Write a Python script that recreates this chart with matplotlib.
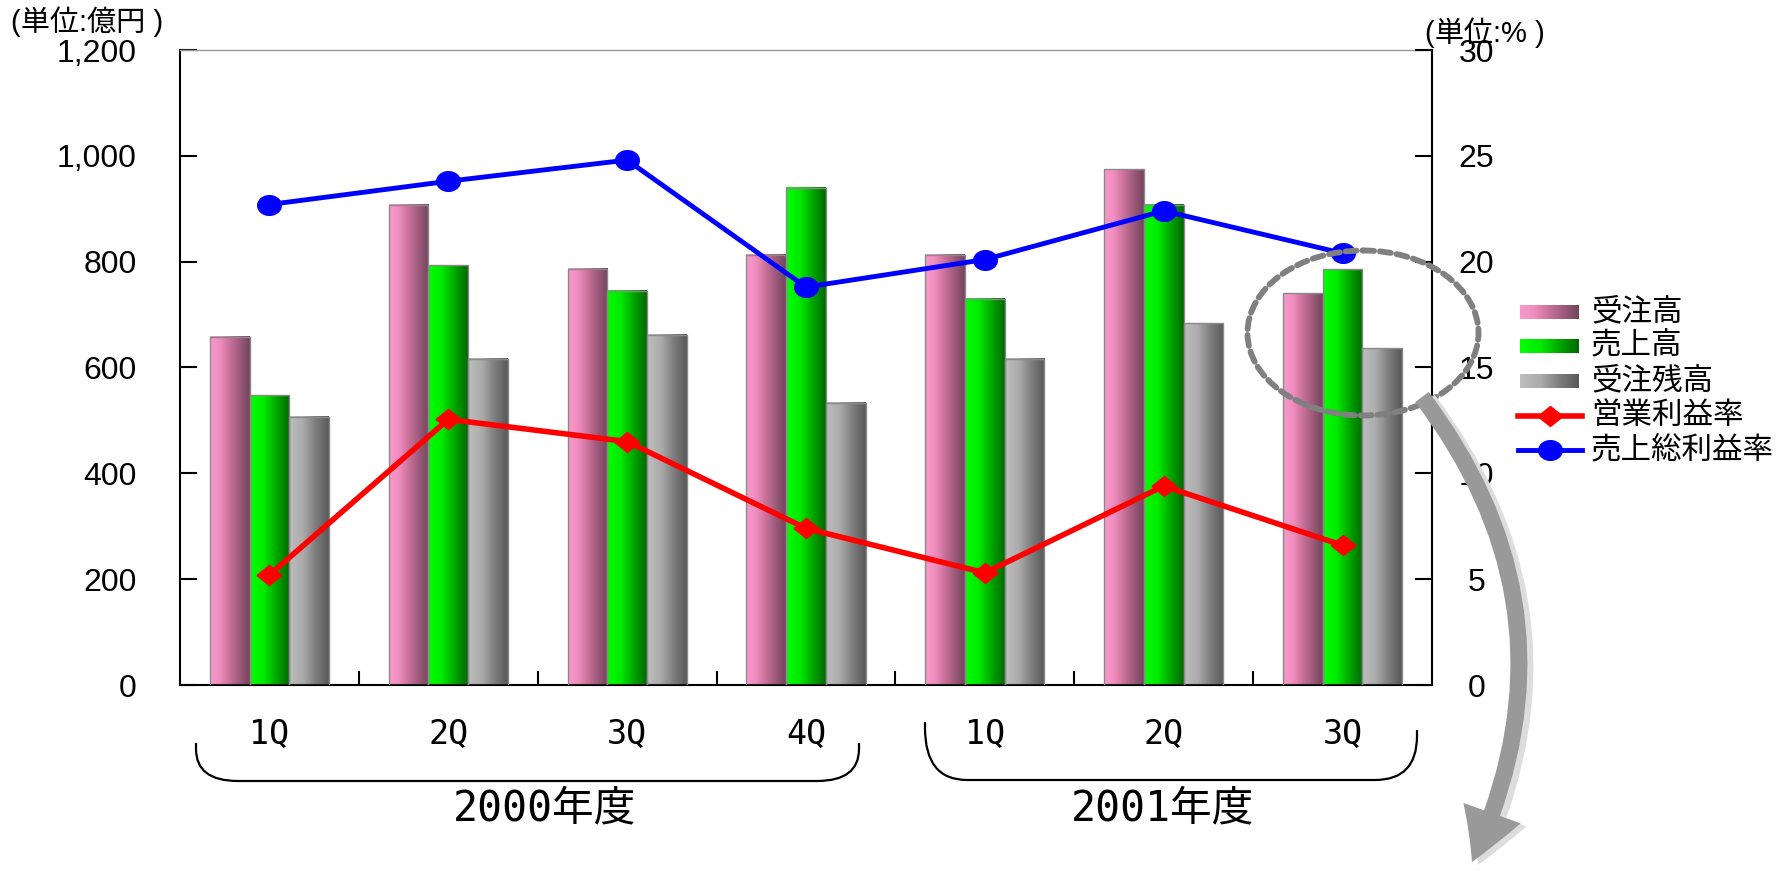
import numpy as np
import matplotlib
matplotlib.use('Agg')
import matplotlib.pyplot as plt
from matplotlib.colors import LinearSegmentedColormap
from matplotlib.patches import Ellipse, FancyArrowPatch, PathPatch, ArrowStyle
from matplotlib.path import Path
from matplotlib.transforms import Affine2D, blended_transform_factory

plt.rcParams['font.family'] = ['Liberation Sans', 'Noto Sans CJK JP']

# data
quarters = ['1Q', '2Q', '3Q', '4Q', '1Q', '2Q', '3Q']
years = ['2000年度', '2001年度']
juchu = [658, 908, 787, 813, 813, 975, 740]        # 受注高
uriage = [548, 793, 745, 940, 730, 908, 786]       # 売上高
zandaka = [507, 617, 662, 533, 617, 684, 636]      # 受注残高
eigyo_rate = [5.2, 12.55, 11.5, 7.4, 5.3, 9.4, 6.6]        # 営業利益率
sourieki_rate = [22.7, 23.8, 24.8, 18.8, 20.1, 22.4, 20.4]  # 売上総利益率
bar_names = ['受注高', '売上高', '受注残高']
line_names = ['営業利益率', '売上総利益率']

W, H = 1787, 871
fig = plt.figure(figsize=(W / 100, H / 100), dpi=100)
# pixel coords (y from top) -> display
px = Affine2D().scale(1 / W, -1 / H).translate(0, 1) + fig.transFigure
mono = ['DejaVu Sans Mono', 'Noto Sans CJK JP']

cmap_pink = LinearSegmentedColormap.from_list('pink', [(0, '#F79AC9'), (0.25, '#F08DC0'), (0.5, '#C97198'), (0.75, '#9C5A7A'), (1, '#74445C')])
cmap_green = LinearSegmentedColormap.from_list('green', [(0, '#00FF00'), (0.35, '#00EA00'), (0.7, '#00A000'), (1, '#006800')])
cmap_gray = LinearSegmentedColormap.from_list('gray', [(0, '#BEBEBE'), (0.35, '#ABABAB'), (0.65, '#808080'), (1, '#585858')])
cmaps = [cmap_pink, cmap_green, cmap_gray]

ax = fig.add_axes([180 / W, 1 - 685 / H, (1432 - 180) / W, (685 - 50) / H])
x = np.arange(len(quarters))
bw = 0.222
grad = np.linspace(0, 1, 256).reshape(1, -1)

for k, (vals, cm) in enumerate(zip([juchu, uriage, zandaka], cmaps)):
    bars = ax.bar(x + (k - 1) * bw, vals, width=bw, facecolor='none',
                  edgecolor='#8a8a8a', linewidth=1, zorder=3)
    for b in bars:
        x0 = b.get_x()
        ax.imshow(grad, cmap=cm, extent=[x0, x0 + b.get_width(), 0, b.get_height()],
                  aspect='auto', zorder=2, interpolation='bilinear')

ax.set_xlim(-0.5, len(quarters) - 0.5)
ax.set_ylim(0, 1200)
ax.set_yticks(np.arange(0, 1201, 200), [f'{v:,}' for v in range(0, 1201, 200)])
ax.set_xticks(np.arange(0.5, len(quarters) - 0.5, 1))
ax.tick_params(axis='x', direction='in', length=10, width=1.5, labelbottom=False)
ax.tick_params(axis='y', direction='in', length=12, width=1.5, pad=31, labelsize=23)
ax.spines['top'].set_color('#999999')
ax.spines['top'].set_linewidth(1)
ax.spines['right'].set_visible(False)
ax.spines['left'].set_linewidth(1.5)
ax.spines['bottom'].set_linewidth(1.5)

ax2 = ax.twinx()
ax2.set_ylim(0, 30)
ax2.set_yticks(np.arange(0, 31, 5), [str(v) for v in range(0, 31, 5)], ha='center')
ax2.tick_params(axis='y', direction='in', length=12, width=1.5, pad=32, labelsize=23)
for s in ['top', 'left', 'bottom']:
    ax2.spines[s].set_visible(False)
ax2.spines['right'].set_linewidth(1.5)

diamond = [(-1.25, 0), (0, 1), (1.25, 0), (0, -1), (-1.25, 0)]
t = np.linspace(0, 2 * np.pi, 40)
oval = list(zip(1.2 * np.cos(t), np.sin(t)))

ax2.plot(x, eigyo_rate, color='#FF0000', lw=4, marker=diamond, ms=18, zorder=4)
ax2.plot(x, sourieki_rate, color='#0000FF', lw=3.5, marker=oval, ms=17, zorder=4)

# quarter labels and year brackets
bt = blended_transform_factory(ax.transData, px)
for i, q in enumerate(quarters):
    ax.text(i, 734, q, transform=bt, ha='center', va='center', fontsize=24,
            family=mono, clip_on=False)


def bracket(x0, x1, yl, yr, yb, rx):
    verts = [(x0, yl), (x0, yl + 6), (x0, yb), (x0 + rx, yb), (x1 - rx, yb),
             (x1, yb), (x1, yr + 6), (x1, yr)]
    codes = [Path.MOVETO, Path.LINETO, Path.CURVE3, Path.CURVE3, Path.LINETO,
             Path.CURVE3, Path.CURVE3, Path.LINETO]
    fig.patches.append(PathPatch(Path(verts, codes), transform=px, fill=False,
                                 lw=1.6, edgecolor='black'))


bracket(196, 859, 743, 743, 781, 42)
bracket(925, 1417, 722, 730, 780, 42)
fig.text(545, 808, years[0], transform=px, ha='center', va='center', fontsize=30, family=mono)
fig.text(1162, 808, years[1], transform=px, ha='center', va='center', fontsize=30, family=mono)

# unit labels
fig.text(11, 22, '(単位:億円 )', transform=px, ha='left', va='center', fontsize=21)
fig.text(1425, 33, '(単位:% )', transform=px, ha='left', va='center', fontsize=21)

# legend
lg = fig.add_axes([1505 / W, 1 - 470 / H, (W - 1505) / W, 180 / H])
rows = [312, 346, 381, 416, 450]
for y, cm, name in zip(rows[:3], cmaps, bar_names):
    lg.imshow(grad, cmap=cm, extent=[1520, 1579, y + 7, y - 7], aspect='auto', interpolation='bilinear')
    lg.text(1591, y, name, va='center', ha='left', fontsize=22)
lg.plot([1518, 1582], [rows[3]] * 2, color='#FF0000', lw=4)
lg.plot([1550], [rows[3]], color='#FF0000', marker=diamond, ms=18)
lg.text(1591, rows[3], line_names[0], va='center', ha='left', fontsize=22)
lg.plot([1518, 1582], [rows[4]] * 2, color='#0000FF', lw=3.5)
lg.plot([1550], [rows[4]], color='#0000FF', marker=oval, ms=17)
lg.text(1591, rows[4], line_names[1], va='center', ha='left', fontsize=22)
lg.set_xlim(1505, W)
lg.set_ylim(470, 290)
lg.axis('off')

# dashed ellipse and curved arrow
fig.patches.append(Ellipse((1363, 333), 231, 165, transform=px, fill=False,
                           edgecolor='#808080', lw=4.2, linestyle=(0, (1.9, 1.0)),
                           capstyle='round', zorder=5))
style = ArrowStyle.Simple(head_length=1.0, head_width=1.15, tail_width=0.32)
for dx, dy, col in [(6, 3, '#DDDDDD'), (0, 0, '#999999')]:
    fig.patches.append(FancyArrowPatch((1422 + dx, 397 + dy), (1472 + dx, 862 + dy),
                                       transform=px, connectionstyle='arc3,rad=-0.3',
                                       arrowstyle=style, mutation_scale=38,
                                       color=col, lw=0, shrinkA=0, shrinkB=0, zorder=5))

fig.savefig('out.png', dpi=100)
